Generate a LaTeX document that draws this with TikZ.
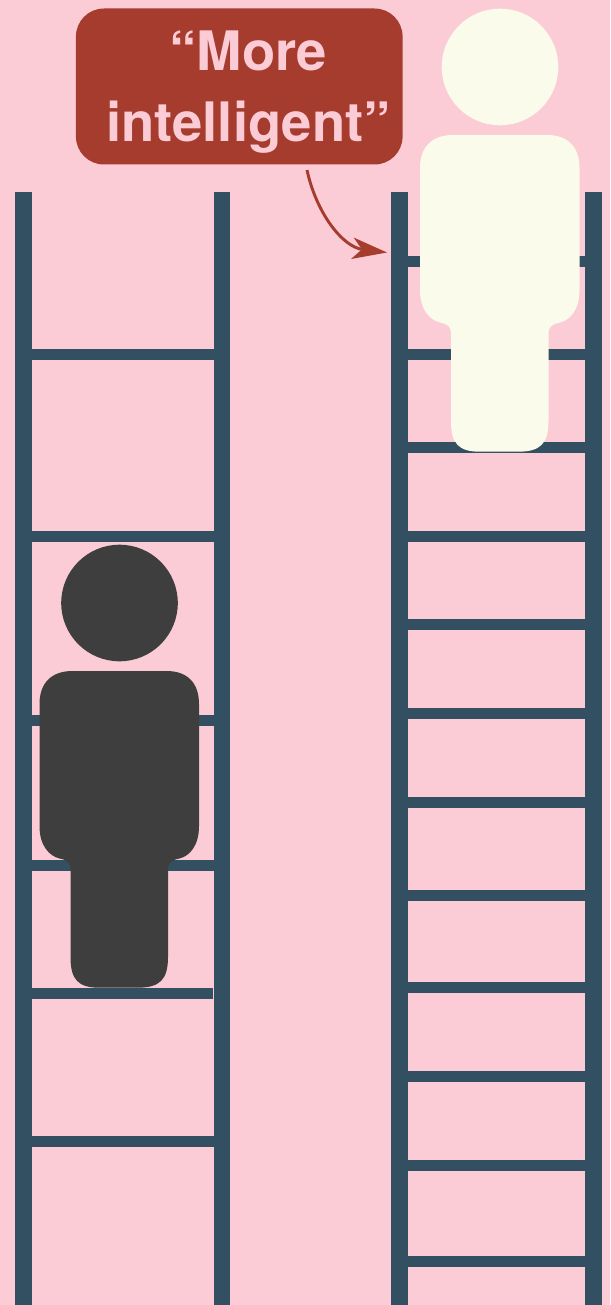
\documentclass[tikz,border=0pt]{standalone}
\usepackage{fontspec}
\setmainfont{TeX Gyre Heros}
\usetikzlibrary{arrows.meta}
\definecolor{bgpink}{HTML}{FBCCD6}
\definecolor{boxred}{HTML}{A63C2E}
\definecolor{railblue}{HTML}{325062}
\definecolor{cream}{HTML}{FBFBEB}
\definecolor{darkfig}{HTML}{3E3E3E}
\tikzset{
  railbar/.style={fill=railblue,draw=none},
  callout/.style={fill=boxred,draw=none,rounded corners=21pt,minimum width=245pt,minimum height=117pt,inner sep=0pt},
  callouttext/.style={inner sep=0pt,align=center,text=bgpink,font=\fontsize{40.8}{53.25}\selectfont\bfseries},
  pointer/.style={draw=boxred,line width=2.2pt,-{Stealth[length=26pt,width=16pt,inset=7pt]}},
  person/.pic={
    \fill[pic actions] (0,-93) circle[radius=58.3];
    \fill[pic actions] (-80,8) .. controls (-80,-13) and (-68,-25) .. (-47,-25)
      -- (47,-25) .. controls (68,-25) and (79.5,-13) .. (79.5,8)
      -- (79.5,130) .. controls (79.5,150) and (70,160) .. (60,162.5)
      .. controls (52,164) and (48.5,167) .. (48.5,173)
      -- (48.5,261) .. controls (48.5,284) and (40,291.7) .. (18,291.7)
      -- (-20,291.7) .. controls (-41,291.7) and (-49,284) .. (-49,261)
      -- (-49,173) .. controls (-49,167) and (-52,164) .. (-60,162.5)
      .. controls (-70,160) and (-80,150) .. (-80,130) -- cycle;
  }
}
\begin{document}
\begin{tikzpicture}[x=0.75pt,y=-0.75pt]
\useasboundingbox (0,0) rectangle (610,1305);
\fill[bgpink] (0,0) rectangle (610,1305);
% left ladder
\fill[railbar] (15,192) rectangle (32,1305);
\fill[railbar] (214,192) rectangle (230,1305);
\foreach \y in {354,536,720,865,1141}{\fill[railbar] (32,\y-5.5) rectangle (214,\y+5.5);}
\fill[railbar] (32,988) rectangle (213,999);
% right ladder
\fill[railbar] (391,192) rectangle (408,1305);
\fill[railbar] (585,192) rectangle (602,1305);
\foreach \y in {261,354,447,536,624,713,802,895,987,1076,1165,1261}{\fill[railbar] (408,\y-5.5) rectangle (585,\y+5.5);}
% people
\pic[fill=cream] at (500,160) {person};
\pic[fill=darkfig] at (119.5,696) {person};
% callout
\node[callout] (label) at (239.25,86.5) {};
\node[callouttext] (labeltext) at (248.5,92.5) {“More\\intelligent”};
\coordinate (from) at (307,170);
\coordinate (to) at (387,252.5);
\draw[pointer] (from) .. controls (316,212) and (342,247) .. (to);
\end{tikzpicture}
\end{document}
